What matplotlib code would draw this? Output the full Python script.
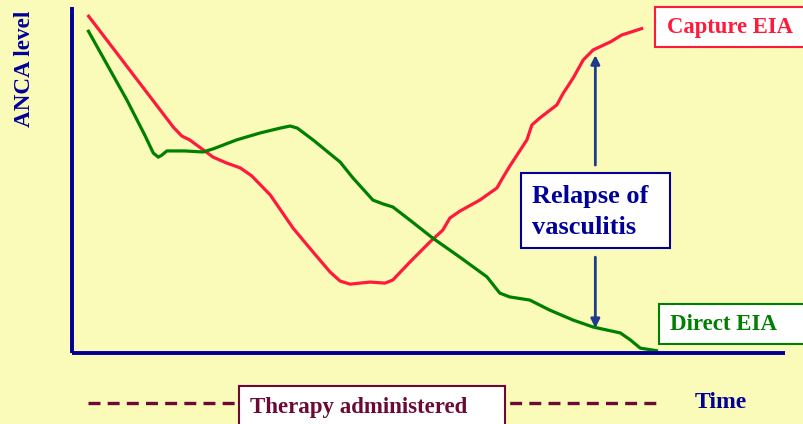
import matplotlib
matplotlib.use("Agg")
import matplotlib.pyplot as plt
from matplotlib.patches import Rectangle
from matplotlib.lines import Line2D

# ---------------- data (time 0..100, ANCA level 0..100) ----------------
capture_t = [2.2, 14.2, 15.4, 16.5, 19.8, 21.7, 23.6, 25.2, 27.8, 31.0, 33.8, 36.2, 37.6,
             39.0, 41.8, 43.9, 45.0, 47.4, 50.2, 52.0, 53.0, 54.4, 57.2, 59.6, 60.4, 61.4,
             63.8, 64.5, 65.6, 68.0, 68.9, 70.3, 71.7, 73.1, 75.5, 77.1, 80.1]
capture_level = [97.7, 65.3, 62.7, 61.6, 56.6, 54.9, 53.5, 51.2, 45.7, 36.1, 29.2, 23.4, 20.8,
                 19.9, 20.5, 20.2, 21.1, 26.3, 32.1, 35.5, 39.0, 41.0, 44.2, 47.7, 50.6, 54.0,
                 61.6, 65.9, 67.9, 71.7, 75.1, 79.5, 84.7, 87.6, 89.9, 91.9, 93.9]

direct_t = [2.2, 7.7, 10.2, 11.4, 12.1, 12.6, 13.3, 15.8, 18.4, 19.8, 23.1, 26.4, 29.2, 30.6,
            31.6, 33.8, 37.6, 39.4, 42.2, 43.6, 45.0, 47.4, 50.6, 54.4, 58.2, 60.0, 61.4,
            64.2, 67.0, 70.3, 73.1, 76.9, 78.3, 79.7, 82.2]
direct_level = [93.4, 73.1, 63.0, 57.8, 56.6, 57.2, 58.4, 58.4, 58.1, 59.0, 61.6, 63.6, 65.0, 65.6,
                65.0, 61.6, 55.2, 50.6, 44.2, 43.1, 42.2, 38.4, 33.2, 27.7, 22.0, 17.3, 16.2,
                15.3, 12.4, 9.5, 7.5, 5.8, 3.8, 1.4, 0.6]

relapse_t = 73.4
relapse_up = (54.3, 86.1)     # arrow from -> to
relapse_down = (27.7, 7.2)

labels = {
    "capture": "Capture EIA",
    "direct": "Direct EIA",
    "relapse": "Relapse of\nvasculitis",
    "therapy": "Therapy administered",
    "time": "Time",
    "ylabel": "ANCA level",
}

# ---------------- style ----------------
BG = "#FAFAB9"
RED = "#FF1A3C"
GREEN = "#008000"
NAVY = "#000099"
ARROW = "#1F3C8C"
MAROON = "#6A0A35"
FONT = "Liberation Serif"

W, H = 804, 424
fig = plt.figure(figsize=(W / 100, H / 100), dpi=100, facecolor=BG)


def fx(x):
    return x / W


def fy(y):
    return 1 - y / H


ax = fig.add_axes([fx(72), fy(353), (785 - 72) / W, (353 - 7) / H])
ax.set_facecolor("none")
ax.set_xlim(0, 100)
ax.set_ylim(0, 100)
for s in ("top", "right"):
    ax.spines[s].set_visible(False)
for s in ("left", "bottom"):
    ax.spines[s].set_color(NAVY)
    ax.spines[s].set_linewidth(2.8)
    ax.spines[s].set_capstyle("butt")
ax.set_xticks([])
ax.set_yticks([])

ax.plot(capture_t, capture_level, color=RED, lw=2.3, solid_joinstyle="round",
        solid_capstyle="butt", clip_on=False)
ax.plot(direct_t, direct_level, color=GREEN, lw=2.3, solid_joinstyle="round",
        solid_capstyle="butt", clip_on=False)

arrowprops = dict(arrowstyle="-|>", color=ARROW, lw=2.0, mutation_scale=13,
                  shrinkA=0, shrinkB=0)
ax.annotate("", xy=(relapse_t, relapse_up[1]), xytext=(relapse_t, relapse_up[0]),
            arrowprops=arrowprops)
ax.annotate("", xy=(relapse_t, relapse_down[1]), xytext=(relapse_t, relapse_down[0]),
            arrowprops=arrowprops)


def box(x0, y0, x1, y1, ec, lw=1.5):
    r = Rectangle((fx(x0), fy(y1)), fx(x1) - fx(x0), fy(y0) - fy(y1),
                  transform=fig.transFigure, facecolor="white", edgecolor=ec,
                  lw=lw, zorder=5)
    fig.patches.append(r)


# Capture EIA label
box(655, 7, 812, 47, RED)
fig.text(fx(667), fy(28), labels["capture"], color=RED, fontsize=16.3, fontweight="bold",
         family=FONT, ha="left", va="center", zorder=6)

# Direct EIA label
box(659, 304, 812, 344, GREEN)
fig.text(fx(670), fy(325), labels["direct"], color=GREEN, fontsize=16.5, fontweight="bold",
         family=FONT, ha="left", va="center", zorder=6)

# Relapse label
box(521, 173, 670, 248, NAVY)
fig.text(fx(532), fy(212), labels["relapse"], color=NAVY, fontsize=19, fontweight="bold",
         family=FONT, ha="left", va="center", linespacing=1.42, zorder=6)

# Therapy administered dashed line and box
LW_D = 2.4
dash = Line2D([fx(88), fx(657)], [fy(403), fy(403)], transform=fig.transFigure,
              color=MAROON, lw=LW_D, zorder=4)
dash.set_dashes((8.6 / LW_D, 5.2 / LW_D))
dash.set_dash_capstyle("butt")
fig.lines.append(dash)
box(239, 386, 505, 432, MAROON)
fig.text(fx(250), fy(408), labels["therapy"], color=MAROON, fontsize=16.5, fontweight="bold",
         family=FONT, ha="left", va="center", zorder=6)

# Time label
fig.text(fx(695), fy(402), labels["time"], color=NAVY, fontsize=17, fontweight="bold",
         family=FONT, ha="left", va="center")

# Y label
fig.text(fx(25), fy(69), labels["ylabel"], color=NAVY, fontsize=16.7, fontweight="bold",
         family=FONT, ha="center", va="center", rotation=90)

fig.savefig("out.png", dpi=100, facecolor=BG)
